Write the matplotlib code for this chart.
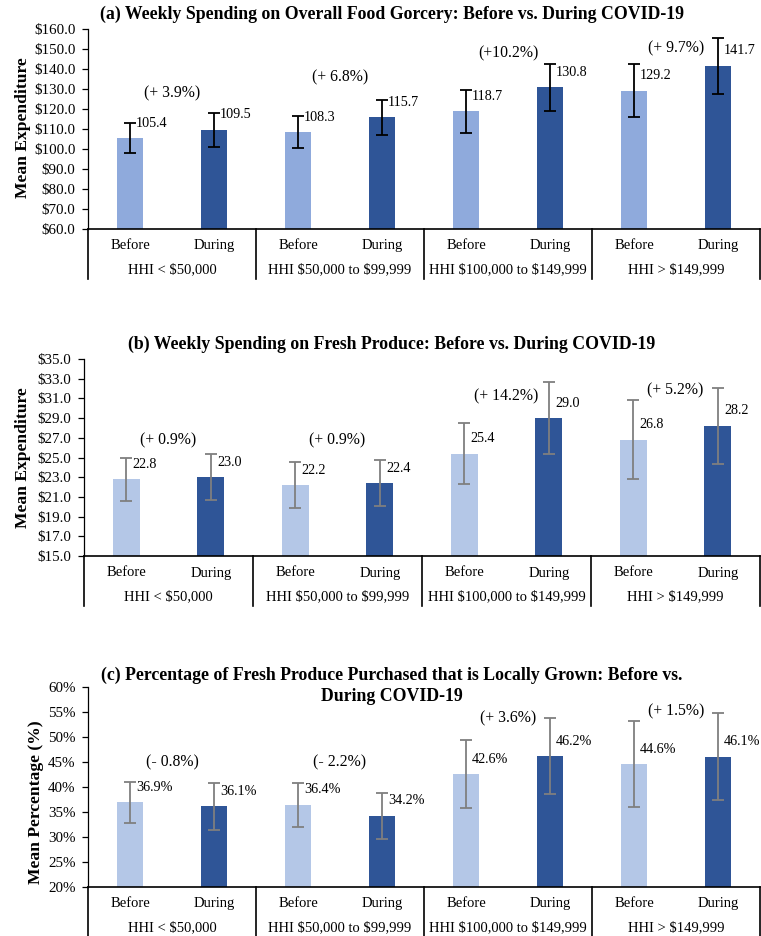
import numpy as np
import matplotlib.pyplot as plt
from matplotlib.lines import Line2D
from matplotlib.ticker import FuncFormatter
from matplotlib.transforms import blended_transform_factory

plt.rcParams['font.family'] = ['Liberation Serif', 'DejaVu Serif']

# income groups and periods
groups = [r'HHI < \$50,000', r'HHI \$50,000 to \$99,999',
          r'HHI \$100,000 to \$149,999', r'HHI > \$149,999']
periods = ['Before', 'During']

# (a) overall food grocery spending
food_before = [105.4, 108.3, 118.7, 129.2]
food_during = [109.5, 115.7, 130.8, 141.7]
food_err_before = [7.6, 8.0, 11.0, 13.4]
food_err_during = [8.6, 8.6, 11.9, 14.0]
food_change = ['(+ 3.9%)', '(+ 6.8%)', '(+10.2%)', '(+ 9.7%)']
food_change_y = [127.7, 136.0, 147.7, 150.5]

# (b) fresh produce spending
prod_before = [22.8, 22.2, 25.4, 26.8]
prod_during = [23.0, 22.4, 29.0, 28.2]
prod_err_before = [2.2, 2.3, 3.1, 4.0]
prod_err_during = [2.35, 2.3, 3.65, 3.85]
prod_change = ['(+ 0.9%)', '(+ 0.9%)', '(+ 14.2%)', '(+ 5.2%)']
prod_change_y = [26.7, 26.7, 31.2, 31.8]

# (c) share of fresh produce that is locally grown
local_before = [36.9, 36.4, 42.6, 44.6]
local_during = [36.1, 34.2, 46.2, 46.1]
local_err_before = [4.2, 4.5, 6.8, 8.7]
local_err_during = [4.7, 4.6, 7.6, 8.8]
local_change = ['(- 0.8%)', '(- 2.2%)', '(+ 3.6%)', '(+ 1.5%)']
local_change_y = [44.9, 44.9, 53.7, 55.1]

W, H = 761, 936
fig = plt.figure(figsize=(W / 100, H / 100), dpi=100)


def add_axes_px(left, top, right, bottom):
    return fig.add_axes([left / W, 1 - bottom / H, (right - left) / W, (bottom - top) / H])


def panel(box, before, during, err_b, err_d, change, change_y, ylim, step, fmt,
          c_before, ecolor, title, title_y, ylabel, ylabel_x, ylabel_y, value_fmt):
    ax = add_axes_px(*box)
    h_px = box[3] - box[1]
    n = len(before)
    xb = np.arange(n) * 2
    xd = xb + 1
    width = 0.32
    ax.bar(xb, before, width, color=c_before, zorder=2)
    ax.bar(xd, during, width, color='#2F5597', zorder=2)
    ax.errorbar(xb, before, yerr=err_b, fmt='none', ecolor=ecolor, elinewidth=1.3,
                capsize=4, capthick=1.3, zorder=3)
    ax.errorbar(xd, during, yerr=err_d, fmt='none', ecolor=ecolor, elinewidth=1.3,
                capsize=4, capthick=1.3, zorder=3)

    for xs, vals in ((xb, before), (xd, during)):
        for x, v in zip(xs, vals):
            ax.annotate(value_fmt.format(v), (x, v), xytext=(4.5, 10.8),
                        textcoords='offset points', ha='left', va='center',
                        fontsize=10.2)
    for i, (txt, y) in enumerate(zip(change, change_y)):
        ax.text(2 * i + 0.5, y, txt, ha='center', va='center', fontsize=11.3)

    ax.set_xlim(-0.5, 2 * n - 0.5)
    ax.set_ylim(*ylim)
    ax.set_yticks(np.arange(ylim[0], ylim[1] + step / 2, step))
    ax.yaxis.set_major_formatter(FuncFormatter(lambda v, p: fmt.format(v)))
    ax.tick_params(axis='y', direction='out', length=4, width=0.9, labelsize=10.8, pad=5)
    ax.tick_params(axis='x', length=0, labelbottom=False)
    for s in ('top', 'right'):
        ax.spines[s].set_visible(False)
    ax.spines['left'].set_linewidth(0.9)
    ax.spines['bottom'].set_linewidth(1.2)

    # category table under the axis
    tr = blended_transform_factory(ax.transData, ax.transAxes)
    depth = 50 / h_px
    for xv in [-0.5] + [2 * i + 1.5 for i in range(n)]:
        ax.add_line(Line2D([xv, xv], [0, -depth], transform=tr, color='black',
                           lw=1.2, clip_on=False))
    for i in range(n):
        for j, p in enumerate(periods):
            ax.text(2 * i + j, -17 / h_px, p, transform=tr, ha='center', va='center',
                    fontsize=10.5)
        ax.text(2 * i + 0.5, -41 / h_px, groups[i], transform=tr, ha='center',
                va='center', fontsize=10.5)

    fig.text(392 / W, 1 - title_y / H, title, ha='center', va='center',
             fontsize=12.8, fontweight='bold', linespacing=1.3)
    fig.text(ylabel_x / W, 1 - ylabel_y / H, ylabel, rotation=90, ha='center',
             va='center', fontsize=12.6, fontweight='bold')
    return ax


panel((88, 29, 760, 228.7), food_before, food_during, food_err_before, food_err_during,
      food_change, food_change_y, (60, 160), 10, r'\${:.1f}', '#8FAADC', 'black',
      '(a) Weekly Spending on Overall Food Gorcery: Before vs. During COVID-19', 14,
      'Mean Expenditure', 23, 128, '{:.1f}')

panel((84, 359, 760, 556), prod_before, prod_during, prod_err_before, prod_err_during,
      prod_change, prod_change_y, (15, 35), 2, r'\${:.1f}', '#B4C7E7', '#7F7F7F',
      '(b) Weekly Spending on Fresh Produce: Before vs. During COVID-19', 344,
      'Mean Expenditure', 23, 458, '{:.1f}')

panel((88, 687.3, 760, 886.7), local_before, local_during, local_err_before,
      local_err_during, local_change, local_change_y, (20, 60), 5, '{:.0f}%',
      '#B4C7E7', '#7F7F7F',
      '(c) Percentage of Fresh Produce Purchased that is Locally Grown: Before vs.\n'
      'During COVID-19', 685.5,
      'Mean Percentage (%)', 36, 802, '{:.1f}%')

fig.savefig('out.png', dpi=100)
